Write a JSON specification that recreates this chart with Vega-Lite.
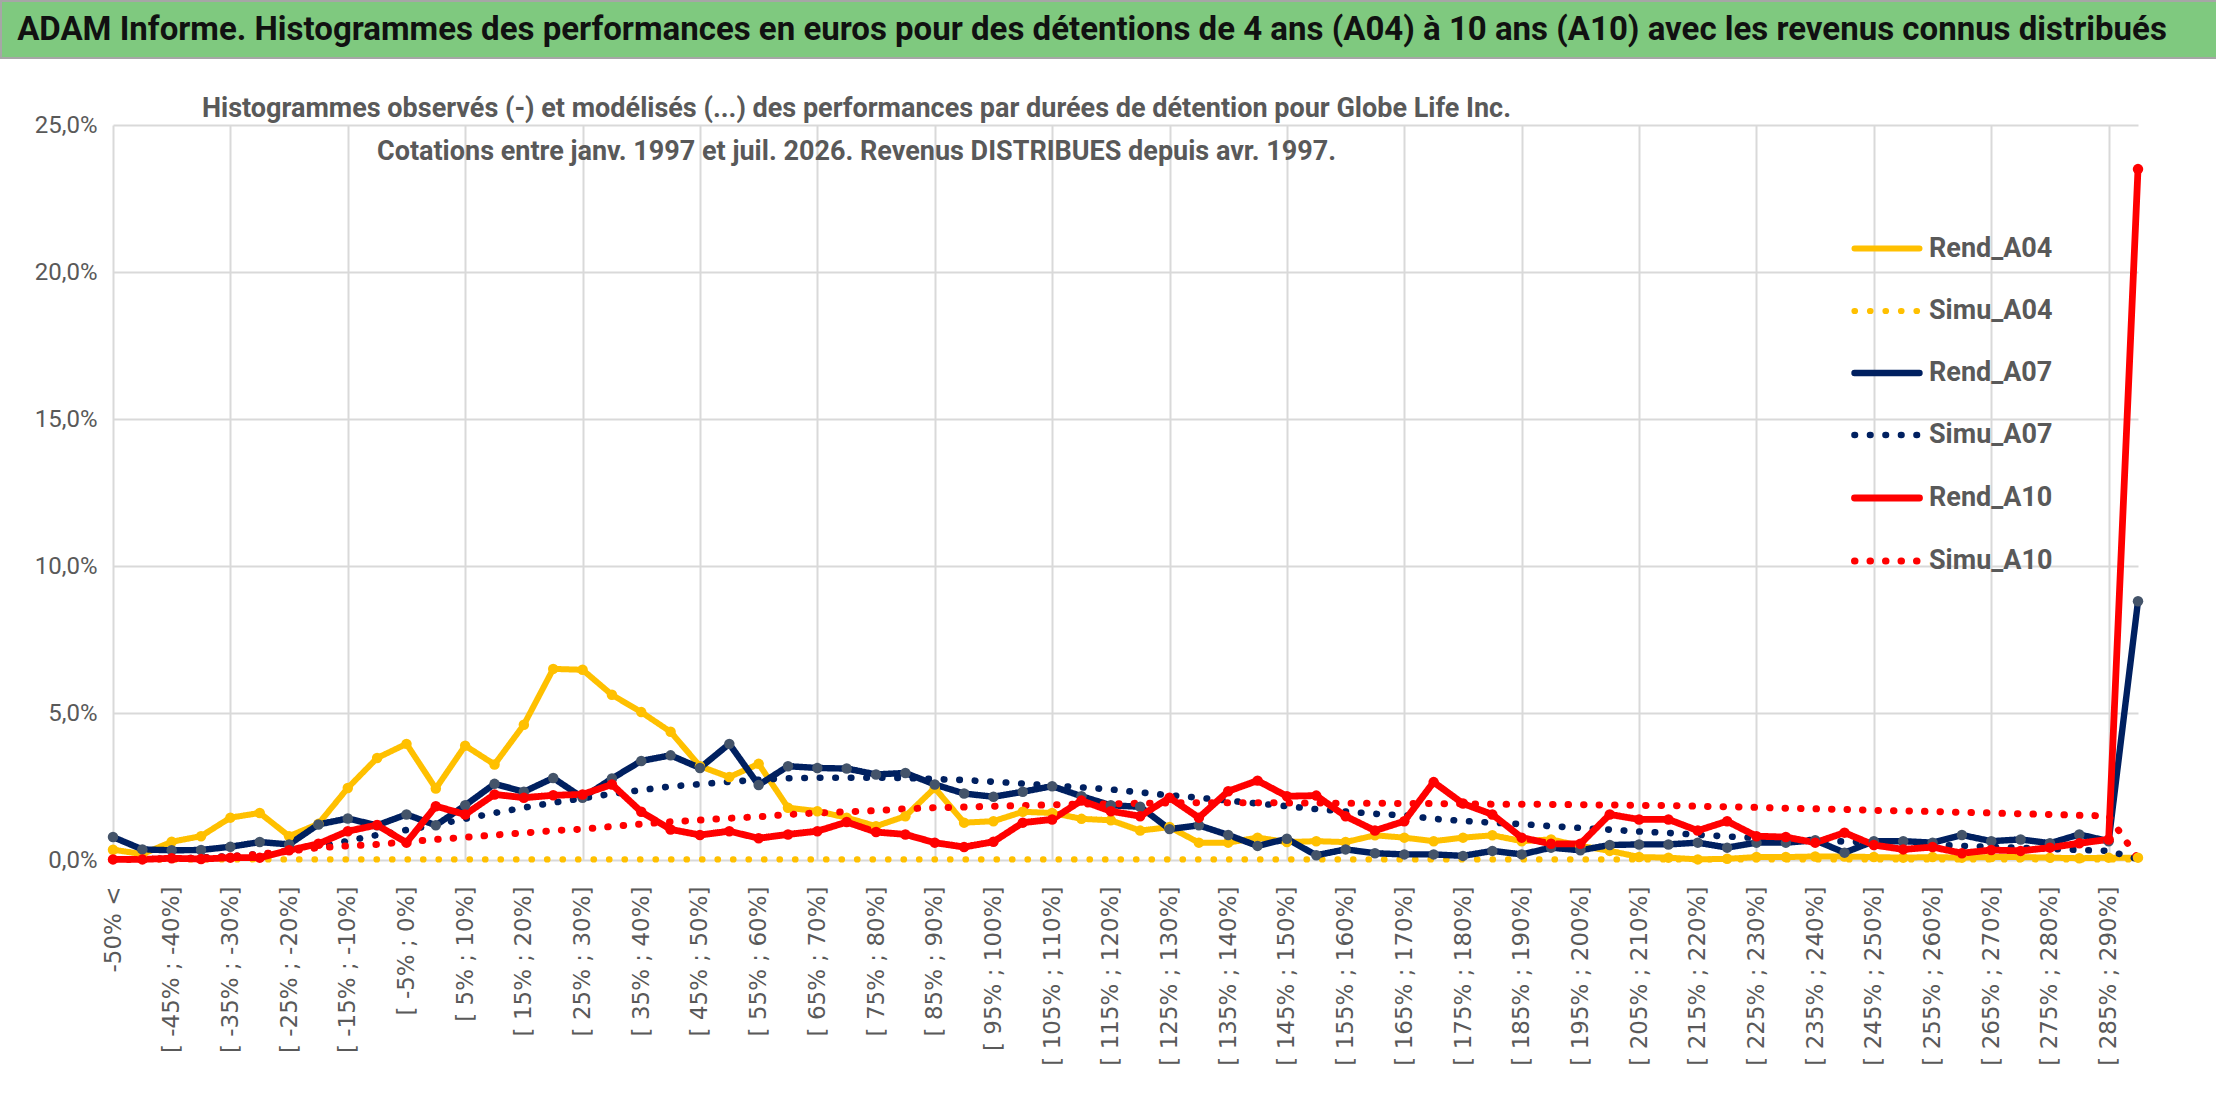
{
  "$schema": "https://vega.github.io/schema/vega-lite/v6.json",
  "padding": 0,
  "background": "white",
  "spacing": 36,
  "vconcat": [
    {
      "width": 2216,
      "height": 57,
      "view": {"fill": "#7FC97F", "stroke": "#A6A6A6", "strokeWidth": 2},
      "data": {"values": [{"t": "ADAM Informe. Histogrammes des performances en euros pour des détentions de 4 ans (A04) à 10 ans (A10) avec les revenus connus distribués"}]},
      "mark": {
        "type": "text",
        "font": "Roboto",
        "fontWeight": "bold",
        "fontSize": 33,
        "color": "#111111",
        "dx": -17
      },
      "encoding": {"text": {"field": "t", "type": "nominal"}}
    },
    {
      "width": 2137,
      "height": 735,
      "title": {
        "text": [
          "Histogrammes observés (-) et modélisés (...) des performances par durées de détention pour Globe Life Inc.",
          "Cotations entre janv. 1997 et juil. 2026. Revenus DISTRIBUES depuis avr. 1997."
        ],
        "anchor": "middle",
        "dx": -213,
        "offset": -53,
        "font": "Roboto",
        "fontSize": 27,
        "fontWeight": "bold",
        "color": "#595959",
        "lineHeight": 43
      },
      "data": {
        "values": [
          {"c": "-50% <", "Rend_A04": 0.35, "Simu_A04": 0.02, "Rend_A07": 0.78, "Simu_A07": 0.02, "Rend_A10": 0.02, "Simu_A10": 0.01},
          {"c": "[ -50% ; -45%]", "Rend_A04": 0.2, "Simu_A04": 0.02, "Rend_A07": 0.36, "Simu_A07": 0.03, "Rend_A10": 0.02, "Simu_A10": 0.02},
          {"c": "[ -45% ; -40%]", "Rend_A04": 0.62, "Simu_A04": 0.02, "Rend_A07": 0.33, "Simu_A07": 0.05, "Rend_A10": 0.06, "Simu_A10": 0.04},
          {"c": "[ -40% ; -35%]", "Rend_A04": 0.81, "Simu_A04": 0.02, "Rend_A07": 0.34, "Simu_A07": 0.08, "Rend_A10": 0.03, "Simu_A10": 0.07},
          {"c": "[ -35% ; -30%]", "Rend_A04": 1.44, "Simu_A04": 0.02, "Rend_A07": 0.45, "Simu_A07": 0.13, "Rend_A10": 0.08, "Simu_A10": 0.12},
          {"c": "[ -30% ; -25%]", "Rend_A04": 1.6, "Simu_A04": 0.02, "Rend_A07": 0.61, "Simu_A07": 0.2, "Rend_A10": 0.08, "Simu_A10": 0.2},
          {"c": "[ -25% ; -20%]", "Rend_A04": 0.81, "Simu_A04": 0.02, "Rend_A07": 0.53, "Simu_A07": 0.3, "Rend_A10": 0.33, "Simu_A10": 0.3},
          {"c": "[ -20% ; -15%]", "Rend_A04": 1.23, "Simu_A04": 0.02, "Rend_A07": 1.21, "Simu_A07": 0.45, "Rend_A10": 0.55, "Simu_A10": 0.42},
          {"c": "[ -15% ; -10%]", "Rend_A04": 2.45, "Simu_A04": 0.02, "Rend_A07": 1.41, "Simu_A07": 0.65, "Rend_A10": 0.98, "Simu_A10": 0.48},
          {"c": "[ -10% ; -5%]", "Rend_A04": 3.47, "Simu_A04": 0.02, "Rend_A07": 1.18, "Simu_A07": 0.85, "Rend_A10": 1.19, "Simu_A10": 0.53},
          {"c": "[ -5% ; 0%]", "Rend_A04": 3.95, "Simu_A04": 0.02, "Rend_A07": 1.55, "Simu_A07": 1.02, "Rend_A10": 0.59, "Simu_A10": 0.62},
          {"c": "[ 0% ; 5%]", "Rend_A04": 2.43, "Simu_A04": 0.02, "Rend_A07": 1.18, "Simu_A07": 1.2, "Rend_A10": 1.83, "Simu_A10": 0.7},
          {"c": "[ 5% ; 10%]", "Rend_A04": 3.89, "Simu_A04": 0.02, "Rend_A07": 1.86, "Simu_A07": 1.4, "Rend_A10": 1.55, "Simu_A10": 0.77},
          {"c": "[ 10% ; 15%]", "Rend_A04": 3.25, "Simu_A04": 0.02, "Rend_A07": 2.59, "Simu_A07": 1.6, "Rend_A10": 2.23, "Simu_A10": 0.85},
          {"c": "[ 15% ; 20%]", "Rend_A04": 4.6, "Simu_A04": 0.02, "Rend_A07": 2.32, "Simu_A07": 1.78, "Rend_A10": 2.12, "Simu_A10": 0.92},
          {"c": "[ 20% ; 25%]", "Rend_A04": 6.5, "Simu_A04": 0.02, "Rend_A07": 2.79, "Simu_A07": 1.95, "Rend_A10": 2.2, "Simu_A10": 1.0},
          {"c": "[ 25% ; 30%]", "Rend_A04": 6.47, "Simu_A04": 0.02, "Rend_A07": 2.12, "Simu_A07": 2.1, "Rend_A10": 2.23, "Simu_A10": 1.05},
          {"c": "[ 30% ; 35%]", "Rend_A04": 5.62, "Simu_A04": 0.02, "Rend_A07": 2.77, "Simu_A07": 2.25, "Rend_A10": 2.57, "Simu_A10": 1.14},
          {"c": "[ 35% ; 40%]", "Rend_A04": 5.03, "Simu_A04": 0.02, "Rend_A07": 3.37, "Simu_A07": 2.38, "Rend_A10": 1.64, "Simu_A10": 1.22},
          {"c": "[ 40% ; 45%]", "Rend_A04": 4.36, "Simu_A04": 0.02, "Rend_A07": 3.56, "Simu_A07": 2.5, "Rend_A10": 1.04, "Simu_A10": 1.3},
          {"c": "[ 45% ; 50%]", "Rend_A04": 3.19, "Simu_A04": 0.02, "Rend_A07": 3.13, "Simu_A07": 2.58, "Rend_A10": 0.85, "Simu_A10": 1.36},
          {"c": "[ 50% ; 55%]", "Rend_A04": 2.82, "Simu_A04": 0.02, "Rend_A07": 3.95, "Simu_A07": 2.66, "Rend_A10": 0.98, "Simu_A10": 1.42},
          {"c": "[ 55% ; 60%]", "Rend_A04": 3.27, "Simu_A04": 0.02, "Rend_A07": 2.55, "Simu_A07": 2.73, "Rend_A10": 0.74, "Simu_A10": 1.47},
          {"c": "[ 60% ; 65%]", "Rend_A04": 1.78, "Simu_A04": 0.02, "Rend_A07": 3.19, "Simu_A07": 2.78, "Rend_A10": 0.87, "Simu_A10": 1.55},
          {"c": "[ 65% ; 70%]", "Rend_A04": 1.66, "Simu_A04": 0.02, "Rend_A07": 3.13, "Simu_A07": 2.8, "Rend_A10": 0.98, "Simu_A10": 1.6},
          {"c": "[ 70% ; 75%]", "Rend_A04": 1.44, "Simu_A04": 0.02, "Rend_A07": 3.11, "Simu_A07": 2.8, "Rend_A10": 1.29, "Simu_A10": 1.64},
          {"c": "[ 75% ; 80%]", "Rend_A04": 1.15, "Simu_A04": 0.02, "Rend_A07": 2.91, "Simu_A07": 2.8, "Rend_A10": 0.95, "Simu_A10": 1.68},
          {"c": "[ 80% ; 85%]", "Rend_A04": 1.49, "Simu_A04": 0.02, "Rend_A07": 2.96, "Simu_A07": 2.79, "Rend_A10": 0.87, "Simu_A10": 1.74},
          {"c": "[ 85% ; 90%]", "Rend_A04": 2.45, "Simu_A04": 0.02, "Rend_A07": 2.57, "Simu_A07": 2.75, "Rend_A10": 0.59, "Simu_A10": 1.78},
          {"c": "[ 90% ; 95%]", "Rend_A04": 1.27, "Simu_A04": 0.02, "Rend_A07": 2.26, "Simu_A07": 2.72, "Rend_A10": 0.44, "Simu_A10": 1.8},
          {"c": "[ 95% ; 100%]", "Rend_A04": 1.32, "Simu_A04": 0.02, "Rend_A07": 2.15, "Simu_A07": 2.66, "Rend_A10": 0.62, "Simu_A10": 1.83},
          {"c": "[ 100% ; 105%]", "Rend_A04": 1.64, "Simu_A04": 0.02, "Rend_A07": 2.32, "Simu_A07": 2.6, "Rend_A10": 1.27, "Simu_A10": 1.85},
          {"c": "[ 105% ; 110%]", "Rend_A04": 1.6, "Simu_A04": 0.02, "Rend_A07": 2.51, "Simu_A07": 2.53, "Rend_A10": 1.38, "Simu_A10": 1.88},
          {"c": "[ 110% ; 115%]", "Rend_A04": 1.4, "Simu_A04": 0.02, "Rend_A07": 2.17, "Simu_A07": 2.47, "Rend_A10": 2.02, "Simu_A10": 1.9},
          {"c": "[ 115% ; 120%]", "Rend_A04": 1.35, "Simu_A04": 0.02, "Rend_A07": 1.86, "Simu_A07": 2.4, "Rend_A10": 1.66, "Simu_A10": 1.91},
          {"c": "[ 120% ; 125%]", "Rend_A04": 1.0, "Simu_A04": 0.02, "Rend_A07": 1.81, "Simu_A07": 2.3, "Rend_A10": 1.49, "Simu_A10": 1.93},
          {"c": "[ 125% ; 130%]", "Rend_A04": 1.12, "Simu_A04": 0.02, "Rend_A07": 1.05, "Simu_A07": 2.2, "Rend_A10": 2.12, "Simu_A10": 1.94},
          {"c": "[ 130% ; 135%]", "Rend_A04": 0.59, "Simu_A04": 0.02, "Rend_A07": 1.18, "Simu_A07": 2.12, "Rend_A10": 1.44, "Simu_A10": 1.95},
          {"c": "[ 135% ; 140%]", "Rend_A04": 0.59, "Simu_A04": 0.02, "Rend_A07": 0.85, "Simu_A07": 2.02, "Rend_A10": 2.34, "Simu_A10": 1.95},
          {"c": "[ 140% ; 145%]", "Rend_A04": 0.76, "Simu_A04": 0.02, "Rend_A07": 0.48, "Simu_A07": 1.92, "Rend_A10": 2.7, "Simu_A10": 1.95},
          {"c": "[ 145% ; 150%]", "Rend_A04": 0.61, "Simu_A04": 0.02, "Rend_A07": 0.72, "Simu_A07": 1.83, "Rend_A10": 2.17, "Simu_A10": 1.94},
          {"c": "[ 150% ; 155%]", "Rend_A04": 0.64, "Simu_A04": 0.02, "Rend_A07": 0.16, "Simu_A07": 1.73, "Rend_A10": 2.19, "Simu_A10": 1.94},
          {"c": "[ 155% ; 160%]", "Rend_A04": 0.61, "Simu_A04": 0.02, "Rend_A07": 0.36, "Simu_A07": 1.65, "Rend_A10": 1.49, "Simu_A10": 1.93},
          {"c": "[ 160% ; 165%]", "Rend_A04": 0.84, "Simu_A04": 0.02, "Rend_A07": 0.23, "Simu_A07": 1.57, "Rend_A10": 1.0, "Simu_A10": 1.93},
          {"c": "[ 165% ; 170%]", "Rend_A04": 0.76, "Simu_A04": 0.02, "Rend_A07": 0.19, "Simu_A07": 1.52, "Rend_A10": 1.32, "Simu_A10": 1.92},
          {"c": "[ 170% ; 175%]", "Rend_A04": 0.64, "Simu_A04": 0.02, "Rend_A07": 0.19, "Simu_A07": 1.4, "Rend_A10": 2.65, "Simu_A10": 1.92},
          {"c": "[ 175% ; 180%]", "Rend_A04": 0.76, "Simu_A04": 0.02, "Rend_A07": 0.14, "Simu_A07": 1.33, "Rend_A10": 1.92, "Simu_A10": 1.91},
          {"c": "[ 180% ; 185%]", "Rend_A04": 0.84, "Simu_A04": 0.02, "Rend_A07": 0.31, "Simu_A07": 1.27, "Rend_A10": 1.55, "Simu_A10": 1.9},
          {"c": "[ 185% ; 190%]", "Rend_A04": 0.64, "Simu_A04": 0.02, "Rend_A07": 0.19, "Simu_A07": 1.22, "Rend_A10": 0.76, "Simu_A10": 1.9},
          {"c": "[ 190% ; 195%]", "Rend_A04": 0.7, "Simu_A04": 0.02, "Rend_A07": 0.42, "Simu_A07": 1.15, "Rend_A10": 0.55, "Simu_A10": 1.89},
          {"c": "[ 195% ; 200%]", "Rend_A04": 0.48, "Simu_A04": 0.02, "Rend_A07": 0.33, "Simu_A07": 1.09, "Rend_A10": 0.55, "Simu_A10": 1.88},
          {"c": "[ 200% ; 205%]", "Rend_A04": 0.31, "Simu_A04": 0.02, "Rend_A07": 0.51, "Simu_A07": 1.03, "Rend_A10": 1.55, "Simu_A10": 1.87},
          {"c": "[ 205% ; 210%]", "Rend_A04": 0.1, "Simu_A04": 0.02, "Rend_A07": 0.53, "Simu_A07": 0.97, "Rend_A10": 1.38, "Simu_A10": 1.86},
          {"c": "[ 210% ; 215%]", "Rend_A04": 0.08, "Simu_A04": 0.02, "Rend_A07": 0.53, "Simu_A07": 0.92, "Rend_A10": 1.38, "Simu_A10": 1.85},
          {"c": "[ 215% ; 220%]", "Rend_A04": 0.02, "Simu_A04": 0.02, "Rend_A07": 0.59, "Simu_A07": 0.86, "Rend_A10": 1.0, "Simu_A10": 1.83},
          {"c": "[ 220% ; 225%]", "Rend_A04": 0.04, "Simu_A04": 0.02, "Rend_A07": 0.42, "Simu_A07": 0.8, "Rend_A10": 1.32, "Simu_A10": 1.81},
          {"c": "[ 225% ; 230%]", "Rend_A04": 0.1, "Simu_A04": 0.02, "Rend_A07": 0.59, "Simu_A07": 0.75, "Rend_A10": 0.81, "Simu_A10": 1.79},
          {"c": "[ 230% ; 235%]", "Rend_A04": 0.1, "Simu_A04": 0.02, "Rend_A07": 0.59, "Simu_A07": 0.71, "Rend_A10": 0.78, "Simu_A10": 1.76},
          {"c": "[ 235% ; 240%]", "Rend_A04": 0.12, "Simu_A04": 0.02, "Rend_A07": 0.67, "Simu_A07": 0.67, "Rend_A10": 0.59, "Simu_A10": 1.74},
          {"c": "[ 240% ; 245%]", "Rend_A04": 0.12, "Simu_A04": 0.02, "Rend_A07": 0.25, "Simu_A07": 0.63, "Rend_A10": 0.93, "Simu_A10": 1.72},
          {"c": "[ 245% ; 250%]", "Rend_A04": 0.1, "Simu_A04": 0.02, "Rend_A07": 0.64, "Simu_A07": 0.6, "Rend_A10": 0.51, "Simu_A10": 1.69},
          {"c": "[ 250% ; 255%]", "Rend_A04": 0.08, "Simu_A04": 0.02, "Rend_A07": 0.64, "Simu_A07": 0.56, "Rend_A10": 0.36, "Simu_A10": 1.67},
          {"c": "[ 255% ; 260%]", "Rend_A04": 0.1, "Simu_A04": 0.02, "Rend_A07": 0.59, "Simu_A07": 0.52, "Rend_A10": 0.44, "Simu_A10": 1.65},
          {"c": "[ 260% ; 265%]", "Rend_A04": 0.08, "Simu_A04": 0.02, "Rend_A07": 0.85, "Simu_A07": 0.48, "Rend_A10": 0.23, "Simu_A10": 1.62},
          {"c": "[ 265% ; 270%]", "Rend_A04": 0.1, "Simu_A04": 0.02, "Rend_A07": 0.64, "Simu_A07": 0.45, "Rend_A10": 0.34, "Simu_A10": 1.6},
          {"c": "[ 270% ; 275%]", "Rend_A04": 0.1, "Simu_A04": 0.02, "Rend_A07": 0.7, "Simu_A07": 0.41, "Rend_A10": 0.31, "Simu_A10": 1.57},
          {"c": "[ 275% ; 280%]", "Rend_A04": 0.08, "Simu_A04": 0.02, "Rend_A07": 0.57, "Simu_A07": 0.38, "Rend_A10": 0.42, "Simu_A10": 1.55},
          {"c": "[ 280% ; 285%]", "Rend_A04": 0.06, "Simu_A04": 0.02, "Rend_A07": 0.87, "Simu_A07": 0.34, "Rend_A10": 0.57, "Simu_A10": 1.52},
          {"c": "[ 285% ; 290%]", "Rend_A04": 0.08, "Simu_A04": 0.02, "Rend_A07": 0.64, "Simu_A07": 0.31, "Rend_A10": 0.7, "Simu_A10": 1.5},
          {"c": "> 290%", "Rend_A04": 0.08, "Simu_A04": 0.02, "Rend_A07": 8.8, "Simu_A07": 0.03, "Rend_A10": 23.5, "Simu_A10": 0.05}
        ]
      },
      "transform": [
        {"fold": ["Rend_A04", "Simu_A04", "Rend_A07", "Simu_A07", "Rend_A10", "Simu_A10"], "as": ["series", "value"]}
      ],
      "encoding": {
        "x": {
          "field": "c",
          "type": "ordinal",
          "sort": null,
          "scale": {"type": "point", "padding": 0, "range": [112, 2137]},
          "axis": {
            "title": null,
            "labelAngle": -90,
            "labelFont": "DejaVu Sans",
            "labelFontSize": 23,
            "labelColor": "#595959",
            "labelPadding": 26,
            "labelOverlap": false,
            "labelExpr": "round(datum.index * 69) % 2 === 1 ? '' : datum.label",
            "ticks": false,
            "domain": false,
            "grid": true,
            "gridColor": "#D9D9D9",
            "gridWidth": 2,
            "gridOpacity": {"condition": {"test": "round(datum.index * 69) % 4 !== 0", "value": 0}, "value": 1}
          }
        },
        "y": {
          "field": "value",
          "type": "quantitative",
          "scale": {"domain": [0, 25]},
          "axis": {
            "title": null,
            "offset": -112,
            "values": [0, 5, 10, 15, 20, 25],
            "labelExpr": "replace(format(datum.value, '.1f'), '.', ',') + '%'",
            "labelFont": "Roboto",
            "labelFontSize": 24,
            "labelColor": "#595959",
            "labelPadding": 16,
            "ticks": false,
            "domain": false,
            "gridColor": "#D9D9D9",
            "gridWidth": 2
          }
        }
      },
      "layer": [
        {
          "mark": {"type": "line", "strokeCap": "round", "strokeJoin": "round"},
          "encoding": {
            "color": {
              "field": "series",
              "type": "nominal",
              "title": null,
              "scale": {
                "domain": ["Rend_A04", "Simu_A04", "Rend_A07", "Simu_A07", "Rend_A10", "Simu_A10"],
                "range": ["#FFC000", "#FFC000", "#002060", "#002060", "#FF0000", "#FF0000"]
              },
              "legend": {
                "title": null,
                "encode": {"symbols": {"update": {"strokeCap": {"value": "round"}}}}
              }
            },
            "strokeDash": {
              "field": "series",
              "type": "nominal",
              "title": null,
              "scale": {
                "domain": ["Rend_A04", "Simu_A04", "Rend_A07", "Simu_A07", "Rend_A10", "Simu_A10"],
                "range": [[1, 0], [0.5, 15], [1, 0], [0.5, 15], [1, 0], [0.5, 15]]
              },
              "legend": {"title": null}
            },
            "strokeWidth": {
              "field": "series",
              "type": "nominal",
              "scale": {
                "domain": ["Rend_A04", "Simu_A04", "Rend_A07", "Simu_A07", "Rend_A10", "Simu_A10"],
                "range": [6, 7, 6, 7, 6, 7]
              },
              "legend": null
            }
          }
        },
        {
          "transform": [{"filter": "indexof(datum.series, 'Rend') === 0"}],
          "mark": {"type": "point", "filled": true, "size": 110, "opacity": 1},
          "encoding": {
            "fill": {
              "field": "series",
              "type": "nominal",
              "scale": {"domain": ["Rend_A04", "Rend_A07", "Rend_A10"], "range": ["#FFC000", "#44546A", "#FF0000"]},
              "legend": null
            }
          }
        }
      ]
    }
  ],
  "config": {
    "view": {"stroke": null},
    "legend": {
      "orient": "none",
      "legendX": 1850,
      "legendY": 212,
      "padding": 0,
      "symbolType": "stroke",
      "symbolSize": 4225,
      "symbolStrokeWidth": 7,
      "labelFont": "Roboto",
      "labelFontSize": 27,
      "labelFontWeight": "bold",
      "labelColor": "#595959",
      "labelOffset": 6,
      "rowPadding": 13
    }
  }
}
